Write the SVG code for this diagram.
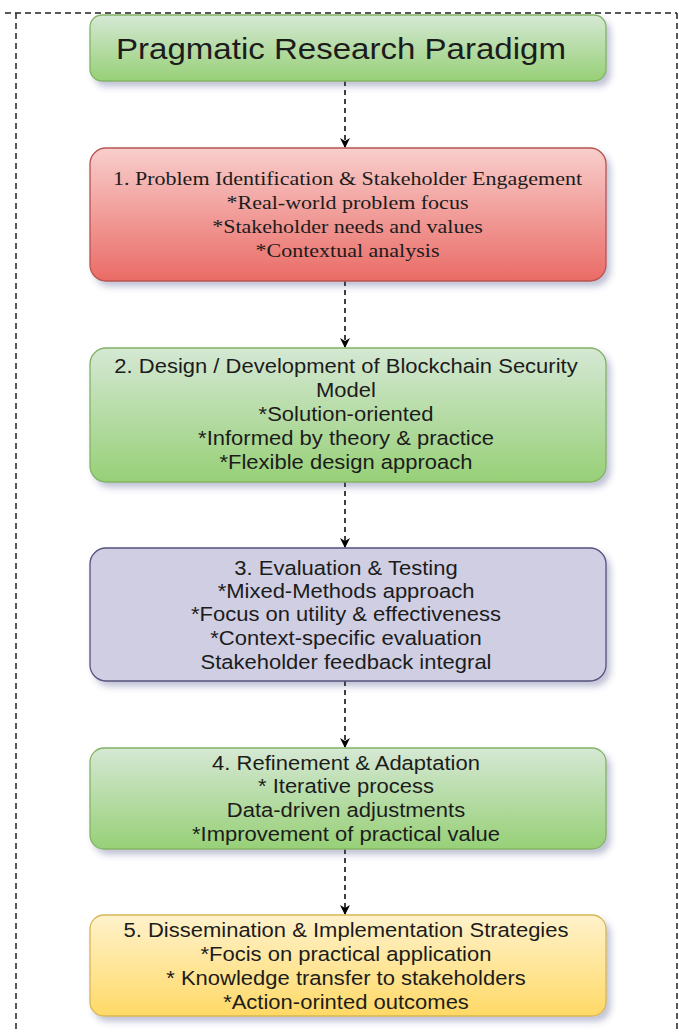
<svg xmlns="http://www.w3.org/2000/svg" width="679" height="1032" viewBox="0 0 679 1032">
  <style>
    .box { stroke-width: 1.3; }
    .sans { font-family: "Liberation Sans", Arial, sans-serif; font-size: 19.3px; fill: #1c1c1c; text-anchor: middle; }
    .serif { font-family: "Liberation Serif", "Times New Roman", serif; font-size: 19.3px; fill: #1c1c1c; text-anchor: middle; }
    .title { font-family: "Liberation Sans", Arial, sans-serif; font-size: 29px; fill: #1c1c1c; text-anchor: middle; }
    .conn { stroke: #000; stroke-width: 1.5; stroke-dasharray: 5 4; fill: none; }
    .frame { stroke: #222; stroke-width: 1.5; stroke-dasharray: 6 4; fill: none; }
  </style>
  <defs>
    <linearGradient id="gGreen" x1="0" y1="0" x2="0" y2="1">
      <stop offset="0" stop-color="#d5e8d4"/>
      <stop offset="1" stop-color="#97d077"/>
    </linearGradient>
    <linearGradient id="gRed" x1="0" y1="0" x2="0" y2="1">
      <stop offset="0" stop-color="#f8cecc"/>
      <stop offset="1" stop-color="#ea6b66"/>
    </linearGradient>
    <linearGradient id="gYellow" x1="0" y1="0" x2="0" y2="1">
      <stop offset="0" stop-color="#fff2cc"/>
      <stop offset="1" stop-color="#ffd966"/>
    </linearGradient>
    <filter id="shadow" x="-5%" y="-10%" width="115%" height="130%">
      <feDropShadow dx="4" dy="5" stdDeviation="3" flood-color="#3a4680" flood-opacity="0.32"/>
    </filter>
    <marker id="arrow" viewBox="0 0 10 10" refX="9" refY="5" markerWidth="10" markerHeight="10" markerUnits="userSpaceOnUse" orient="auto">
      <path d="M0,0 L10,5 L0,10 L3,5 Z" fill="#000"/>
    </marker>
  </defs>

  <!-- outer dashed frame -->
  <line class="frame" x1="5" y1="13" x2="677" y2="13"/>
  <line class="frame" x1="16" y1="13" x2="16" y2="1032"/>
  <line class="frame" x1="677" y1="13" x2="677" y2="1032"/>

  <!-- connectors -->
  <g id="connectors">
    <line class="conn" x1="345" y1="81" x2="345" y2="147" marker-end="url(#arrow)"/>
    <line class="conn" x1="345" y1="281" x2="345" y2="347" marker-end="url(#arrow)"/>
    <line class="conn" x1="345" y1="482" x2="345" y2="547" marker-end="url(#arrow)"/>
    <line class="conn" x1="345" y1="681" x2="345" y2="747" marker-end="url(#arrow)"/>
    <line class="conn" x1="345" y1="849" x2="345" y2="914" marker-end="url(#arrow)"/>
  </g>

  <g id="title">
    <rect class="box" x="90" y="15" width="516" height="66" rx="12" fill="url(#gGreen)" stroke="#82b366" filter="url(#shadow)"/>
    <g transform="translate(341 0) scale(1.14 1)">
      <text class="title" x="0" y="59">Pragmatic Research Paradigm</text>
    </g>
  </g>

  <g id="step1">
    <rect class="box" x="90" y="148" width="516" height="133" rx="16" fill="url(#gRed)" stroke="#b85450" filter="url(#shadow)"/>
    <g transform="translate(347.5 0) scale(1.14 1)">
      <text class="serif" x="0" y="185">1. Problem Identification &amp; Stakeholder Engagement</text>
      <text class="serif" x="0" y="209">*Real-world problem focus</text>
      <text class="serif" x="0" y="233">*Stakeholder needs and values</text>
      <text class="serif" x="0" y="257">*Contextual analysis</text>
    </g>
  </g>

  <g id="step2">
    <rect class="box" x="90" y="348" width="516" height="134" rx="16" fill="url(#gGreen)" stroke="#82b366" filter="url(#shadow)"/>
    <g transform="translate(346 0) scale(1.14 1)">
      <text class="sans" x="0" y="373">2. Design / Development of Blockchain Security</text>
      <text class="sans" x="0" y="397">Model</text>
      <text class="sans" x="0" y="421">*Solution-oriented</text>
      <text class="sans" x="0" y="445">*Informed by theory &amp; practice</text>
      <text class="sans" x="0" y="469">*Flexible design approach</text>
    </g>
  </g>

  <g id="step3">
    <rect class="box" x="90" y="548" width="516" height="133" rx="16" fill="#d0cee2" stroke="#56517e" filter="url(#shadow)"/>
    <g transform="translate(346 0) scale(1.14 1)">
      <text class="sans" x="0" y="575">3. Evaluation &amp; Testing</text>
      <text class="sans" x="0" y="598">*Mixed-Methods approach</text>
      <text class="sans" x="0" y="621">*Focus on utility &amp; effectiveness</text>
      <text class="sans" x="0" y="645">*Context-specific evaluation</text>
      <text class="sans" x="0" y="669">Stakeholder feedback integral</text>
    </g>
  </g>

  <g id="step4">
    <rect class="box" x="90" y="748" width="516" height="101" rx="14" fill="url(#gGreen)" stroke="#82b366" filter="url(#shadow)"/>
    <g transform="translate(346 0) scale(1.14 1)">
      <text class="sans" x="0" y="770">4. Refinement &amp; Adaptation</text>
      <text class="sans" x="0" y="793">* Iterative process</text>
      <text class="sans" x="0" y="817">Data-driven adjustments</text>
      <text class="sans" x="0" y="841">*Improvement of practical value</text>
    </g>
  </g>

  <g id="step5">
    <rect class="box" x="90" y="915" width="516" height="101" rx="14" fill="url(#gYellow)" stroke="#d6b656" filter="url(#shadow)"/>
    <g transform="translate(346 0) scale(1.14 1)">
      <text class="sans" x="0" y="937">5. Dissemination &amp; Implementation Strategies</text>
      <text class="sans" x="0" y="961">*Focis on practical application</text>
      <text class="sans" x="0" y="985">* Knowledge transfer to stakeholders</text>
      <text class="sans" x="0" y="1009">*Action-orinted outcomes</text>
    </g>
  </g>
</svg>
